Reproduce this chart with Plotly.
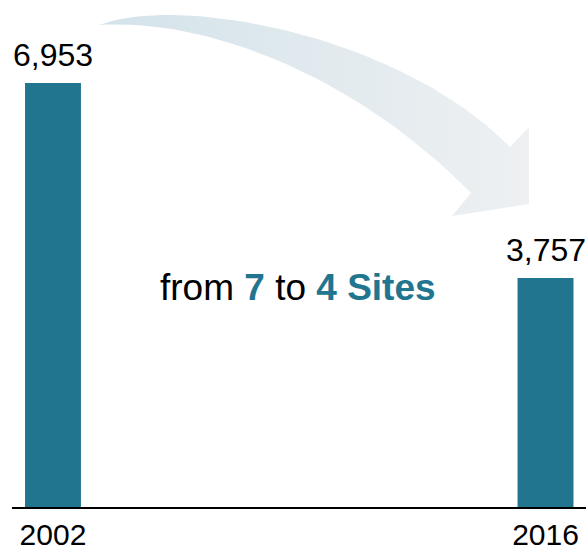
import plotly.graph_objects as go

# Data
years = [2002, 2016]
values = [6953, 3757]
value_labels = ["6,953", "3,757"]
tick_labels = ["2002", "2016"]

BAR_COLOR = "#22758f"
FONT = "Liberation Sans, Arial, sans-serif"

W, H = 586, 553
M_L, M_R, M_T, M_B = 12, 0, 0, 46


def cubic(p0, p1, p2, p3, n=40):
    pts = []
    for i in range(n + 1):
        t = i / n
        a, b, c, d = (1 - t) ** 3, 3 * (1 - t) ** 2 * t, 3 * (1 - t) * t ** 2, t ** 3
        pts.append((a * p0[0] + b * p1[0] + c * p2[0] + d * p3[0],
                    a * p0[1] + b * p1[1] + c * p2[1] + d * p3[1]))
    return pts


# Curved arrow outline (pixel space of the overlay axes)
upper = cubic((99, 25), (180, -6), (400, 35), (510, 147))
head = [(529, 127), (529, 204), (452, 216), (471, 193)]
lower = cubic((471, 193), (350, 70), (200, 18), (99, 25))
outline = upper + head + lower
ax_ = [p[0] for p in outline]
ay_ = [p[1] for p in outline]

fig = go.Figure()

fig.add_trace(go.Scatter(
    x=ax_, y=ay_, xaxis="x2", yaxis="y2",
    mode="lines", line=dict(width=0), fill="toself",
    fillgradient=dict(type="horizontal",
                      colorscale=[[0, "#d3e3ea"], [1, "#eef0f2"]]),
    hoverinfo="skip", showlegend=False,
))

fig.add_trace(go.Bar(
    x=years, y=values, width=1.59,
    marker=dict(color=BAR_COLOR, line=dict(width=0)),
    showlegend=False,
))

for yr, v, lab in zip(years, values, value_labels):
    fig.add_annotation(x=yr, y=v, text=lab, showarrow=False,
                       yanchor="bottom", yshift=8,
                       font=dict(family=FONT, size=32, color="black"))

fig.add_annotation(
    xref="x2", yref="y2", x=298, y=287, showarrow=False,
    xanchor="center", yanchor="middle",
    text=("from <b><span style='color:%s'>7</span></b> to "
          "<b><span style='color:%s'>4 Sites</span></b>") % (BAR_COLOR, BAR_COLOR),
    font=dict(family=FONT, size=37, color="black"),
)

fig.update_layout(
    width=W, height=H,
    margin=dict(l=M_L, r=M_R, t=M_T, b=M_B),
    paper_bgcolor="white", plot_bgcolor="white",
    xaxis=dict(range=[2000.835, 2017.151], tickvals=years, ticktext=tick_labels,
               showgrid=False, zeroline=False, showline=True,
               linecolor="black", linewidth=2, ticks="",
               automargin=False, ticklabelstandoff=0,
               tickfont=dict(family=FONT, size=30, color="black")),
    yaxis=dict(range=[0, 8314], visible=False, automargin=False),
    xaxis2=dict(range=[M_L, W], overlaying="x", visible=False),
    yaxis2=dict(range=[H - M_B, 0], overlaying="y", visible=False),
)

fig.write_html("out.html")
